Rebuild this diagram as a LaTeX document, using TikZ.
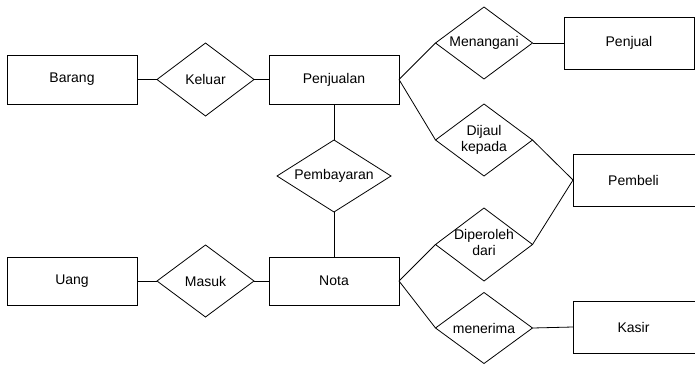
\documentclass[tikz,border=0pt]{standalone}
\usepackage{fontspec}
\setmainfont{Liberation Sans}
\usetikzlibrary{shapes.geometric}
\begin{document}
\begin{tikzpicture}[x=1pt,y=-1pt,
  every node/.style={font=\fontsize{14}{16}\selectfont, line width=0.8pt, outer sep=0pt, inner sep=0pt},
  entity/.style={draw, rectangle, minimum width=130pt},
  rel/.style={draw, diamond, minimum width=97pt, minimum height=72pt},
  link/.style={draw, line width=0.8pt}]
\clip (0,0) rectangle (695,364);
% entities
\node[entity, minimum height=49pt] (barang) at (72,79.5) {Barang};
\node[entity, minimum height=49pt] (penjualan) at (334,79.5) {Penjualan};
\node[entity, minimum height=52pt] (penjual) at (629,43) {Penjual};
\node[entity, minimum height=52pt] (pembeli) at (638,180) {\hspace*{-9pt}Pembeli};
\node[entity, minimum height=48pt] (uang) at (72,281) {Uang};
\node[entity, minimum height=48pt] (nota) at (334,281) {Nota};
\node[entity, minimum height=52pt] (kasir) at (638,327) {\hspace*{-9pt}Kasir};
% relationships
\node[rel, minimum height=73pt] (keluar) at (205.5,79.5) {\makebox[0pt]{Keluar}};
\node[rel] (menangani) at (484,43) {\makebox[0pt]{Menangani}};
\node[rel] (dijaul) at (484,140) {\makebox[0pt]{\begin{tabular}{@{}c@{}}Dijaul\\kepada\end{tabular}}};
\node[rel, minimum width=114pt] (pembayaran) at (334,176) {\makebox[0pt]{Pembayaran}};
\node[rel] (masuk) at (205.5,281) {\makebox[0pt]{Masuk}};
\node[rel, minimum height=73pt] (diperoleh) at (484,244.5) {\makebox[0pt]{\begin{tabular}{@{}c@{}}Diperoleh\\dari\end{tabular}}};
\node[rel, minimum height=71pt] (menerima) at (484,328) {\makebox[0pt]{menerima}};
% connectors
\path[link] (barang.east) -- (keluar.west);
\path[link] (keluar.east) -- (penjualan.west);
\path[link] (penjualan.east) -- (menangani.west);
\path[link] (menangani.east) -- (penjual.west);
\path[link] (penjualan.east) -- (dijaul.west);
\path[link] (dijaul.east) -- (pembeli.west);
\path[link] (penjualan.south) -- (pembayaran.north);
\path[link] (pembayaran.south) -- (nota.north);
\path[link] (uang.east) -- (masuk.west);
\path[link] (masuk.east) -- (nota.west);
\path[link] (nota.east) -- (diperoleh.west);
\path[link] (diperoleh.east) -- (pembeli.west);
\path[link] (nota.east) -- (menerima.west);
\path[link] (menerima.east) -- (kasir.west);
\end{tikzpicture}
\end{document}
